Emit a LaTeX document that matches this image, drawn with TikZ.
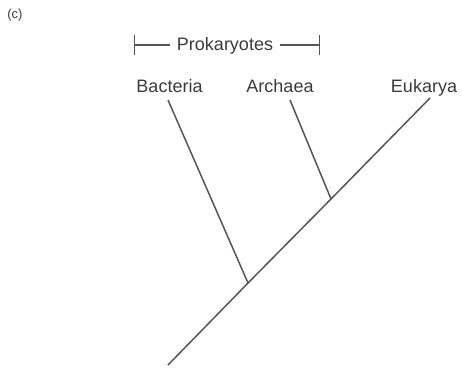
\documentclass[tikz,border=0pt]{standalone}
\usepackage{fontspec}
\setmainfont{Liberation Sans}
\usepackage{tikz}
\usetikzlibrary{arrows.meta,positioning,calc}
\definecolor{vonal}{HTML}{555555}
\definecolor{betu}{HTML}{3A3A3A}
\tikzset{
  ag/.style={draw=vonal,line width=1.5pt},
  cimke/.style={anchor=base,inner sep=0pt,text=betu,font=\fontsize{18}{21}\selectfont},
  zar/.style={draw=vonal,line width=1.3pt,{Bar[width=20pt]}-},
}

\begin{document}
\begin{tikzpicture}[x=1pt,y=-1pt]
  \useasboundingbox (0,0) rectangle (462,375);
  \node[text=betu,font=\fontsize{13}{15}\selectfont] (felirat) at (15,15) {(c)};
  % fajok
  \node[cimke] (bac) at (169.5,92) {Bacteria};
  \node[cimke] (arc) at (280,92) {Archaea};
  \node[cimke] (euk) at (424,92) {Eukarya};
  \node[cimke,anchor=center,inner xsep=7pt] (prok) at (225,45.5) {Prokaryotes};
  \coordinate (zb) at (134,45); \coordinate (zj) at (320,45);
  \draw[zar] (zb) -- (prok.west |- zb);
  \draw[zar] (zj) -- (prok.east |- zj);
  % fa
  \coordinate (gyoker) at (168,365);
  \coordinate (e1) at (248,283);
  \coordinate (e2) at (331,199);
  \coordinate (vb) at (168,100); \coordinate (va) at (290,100);
  \coordinate (ve) at (430,98);
  \draw[ag] (gyoker) -- (e1) -- (e2) -- (ve);
  \draw[ag] (e1) -- (vb);
  \draw[ag] (e2) -- (va);
\end{tikzpicture}
\end{document}
